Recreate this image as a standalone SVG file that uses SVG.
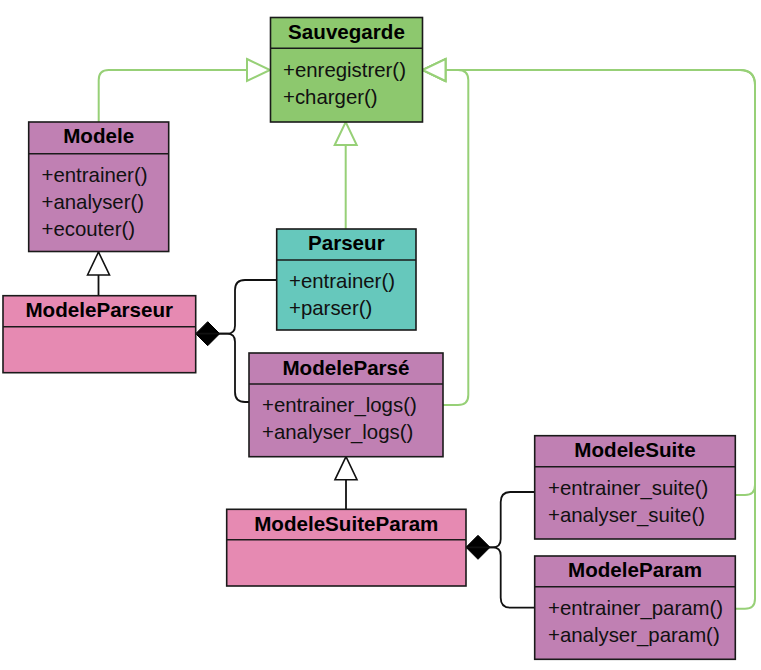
<svg xmlns="http://www.w3.org/2000/svg" width="761" height="670" viewBox="0 0 761 670">
<defs>
<style>
.box{stroke:#1a1a1a;stroke-width:1.6}
.div{stroke:#1a1a1a;stroke-width:1.6;fill:none}
.green{fill:#8DC86E}
.purple{fill:#C080B3}
.pink{fill:#E68AB2}
.teal{fill:#66C8BC}
.title{font-family:"Liberation Sans",Arial,sans-serif;font-size:20.6px;font-weight:bold;fill:#000;text-anchor:middle}
.m{font-family:"Liberation Sans",Arial,sans-serif;font-size:20.4px;fill:#111}
.eg{fill:none;stroke:#97D077;stroke-width:2}
.ek{fill:none;stroke:#111;stroke-width:1.8}
</style>
<marker id="triG" markerUnits="userSpaceOnUse" viewBox="-2 -2 28 26" markerWidth="28" markerHeight="26" refX="23" refY="11" orient="auto">
<path d="M0,0 L23,11 L0,22 Z" fill="#fff" stroke="#97D077" stroke-width="2"/>
</marker>
<marker id="triK" markerUnits="userSpaceOnUse" viewBox="-2 -2 28 26" markerWidth="28" markerHeight="26" refX="23" refY="11" orient="auto">
<path d="M0,0 L23,11 L0,22 Z" fill="#fff" stroke="#111" stroke-width="1.6"/>
</marker>
<marker id="dia" markerUnits="userSpaceOnUse" viewBox="-2 -2 28 28" markerWidth="28" markerHeight="28" refX="0" refY="12" orient="auto">
<path d="M0,12 L12,0 L24,12 L12,24 Z" fill="#000" stroke="#000" stroke-width="1"/>
</marker>
</defs>
<rect width="761" height="670" fill="#fff"/>

<g id="connectors">
<path class="eg" d="M98.7,122 V80 Q98.7,70 108.7,70 H270" marker-end="url(#triG)"/>
<path class="eg" d="M345.7,229 V122" marker-end="url(#triG)"/>
<path class="eg" d="M443,405 H458 Q468.3,405 468.3,395 V80 Q468.3,70 458,70 H422.5" marker-end="url(#triG)"/>
<path class="eg" d="M735.3,495 H745 Q755,495 755,485 V85 Q755,70 740,70 H422.5" marker-end="url(#triG)"/>
<path class="eg" d="M735.3,608.7 H745 Q755,608.7 755,598.7 V85 Q755,70 740,70 H422.5" marker-end="url(#triG)"/>
<path class="ek" d="M98.5,295.7 V252" marker-end="url(#triK)"/>
<path class="ek" d="M346,509.3 V456.7" marker-end="url(#triK)"/>
<path class="ek" d="M195.7,333.7 H227 Q235,333.7 235,325.7 V290 Q235,280 245,280 H276.7" marker-start="url(#dia)"/>
<path class="ek" d="M195.7,333.7 H227 Q235,333.7 235,341.7 V392 Q235,402 245,402 H249"/>
<path class="ek" d="M466,547.3 H492.7 Q500.7,547.3 500.7,539.3 V502 Q500.7,492 510.7,492 H534.7" marker-start="url(#dia)"/>
<path class="ek" d="M466,547.3 H492.7 Q500.7,547.3 500.7,555.3 V597.7 Q500.7,607.7 510.7,607.7 H534.7"/>
</g>

<g id="Sauvegarde">
<rect class="box green" x="270.5" y="17.5" width="152" height="104.5"/>
<path class="div" d="M270.5,48.3 H422.5"/>
<text class="title" x="346.5" y="38.8">Sauvegarde</text>
<text class="m" x="283" y="76.8">+enregistrer()</text>
<text class="m" x="283" y="103.8">+charger()</text>
</g>

<g id="Modele">
<rect class="box purple" x="28.7" y="122" width="140" height="129.5"/>
<path class="div" d="M28.7,153.7 H168.7"/>
<text class="title" x="98.7" y="143.3">Modele</text>
<text class="m" x="41.5" y="181.5">+entrainer()</text>
<text class="m" x="41.5" y="208.5">+analyser()</text>
<text class="m" x="41.5" y="235.5">+ecouter()</text>
</g>

<g id="Parseur">
<rect class="box teal" x="276.7" y="229" width="139.3" height="101"/>
<path class="div" d="M276.7,260 H416"/>
<text class="title" x="346.3" y="250.3">Parseur</text>
<text class="m" x="289" y="288">+entrainer()</text>
<text class="m" x="289" y="315">+parser()</text>
</g>

<g id="ModeleParseur">
<rect class="box pink" x="3" y="295.7" width="192.7" height="77"/>
<path class="div" d="M3,326.7 H195.7"/>
<text class="title" x="99.3" y="317">ModeleParseur</text>
</g>

<g id="ModeleParse">
<rect class="box purple" x="249" y="353" width="194" height="103.7"/>
<path class="div" d="M249,384 H443"/>
<text class="title" x="346" y="374.5">ModeleParsé</text>
<text class="m" x="262" y="412">+entrainer_logs()</text>
<text class="m" x="262" y="439">+analyser_logs()</text>
</g>

<g id="ModeleSuiteParam">
<rect class="box pink" x="226.7" y="509.3" width="239.3" height="76.7"/>
<path class="div" d="M226.7,539.7 H466"/>
<text class="title" x="346.3" y="530.5">ModeleSuiteParam</text>
</g>

<g id="ModeleSuite">
<rect class="box purple" x="534.7" y="435.7" width="200.6" height="103.3"/>
<path class="div" d="M534.7,466.7 H735.3"/>
<text class="title" x="635" y="457">ModeleSuite</text>
<text class="m" x="548" y="494.7">+entrainer_suite()</text>
<text class="m" x="548" y="521.7">+analyser_suite()</text>
</g>

<g id="ModeleParam">
<rect class="box purple" x="534.7" y="556" width="200.6" height="103.3"/>
<path class="div" d="M534.7,586.7 H735.3"/>
<text class="title" x="635" y="577.3">ModeleParam</text>
<text class="m" x="548" y="614.7">+entrainer_param()</text>
<text class="m" x="548" y="641.7">+analyser_param()</text>
</g>
</svg>
